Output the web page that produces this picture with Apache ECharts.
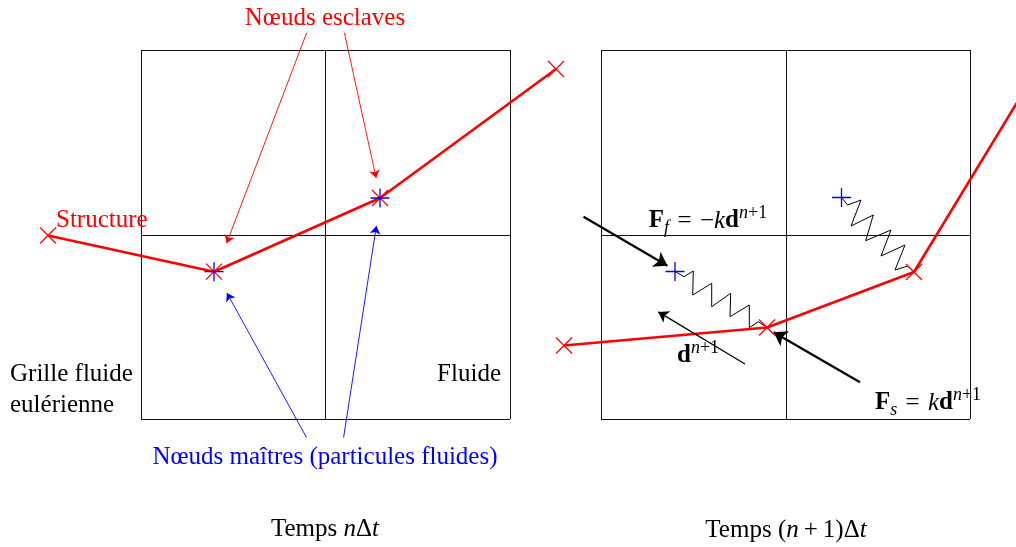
<!DOCTYPE html>
<html>
<head>
<meta charset="utf-8">
<script src="https://cdn.jsdelivr.net/npm/echarts@6/dist/echarts.min.js"></script>
<style>
  html, body { margin: 0; padding: 0; background: #fff; }
  #chart { width: 1016px; height: 547px; }
</style>
</head>
<body>
<div id="chart"></div>
<script>
// ---------- DATA (diagram units: 1 unit = 1 px of the reference) ----------
// Eulerian grid lines
const leftGridX  = [141, 325.5, 510];
const rightGridX = [601, 786, 970];
const gridY      = [50, 235, 419];

// Structure polylines (time n and n+1)
const leftStructure  = [[48, 235.5], [214, 271.7], [380, 198], [556, 69]];
const rightStructure = [[564, 345.5], [767, 327.5], [914, 272], [1018, 101]];

// Master nodes (fluid particles)
const leftMasters  = [[214, 271.7], [380, 198]];
const rightMasters = [[675, 271.5], [841.5, 197.5]];

// Springs (zig-zag) between master and slave nodes at time n+1
const spring1 = [[675, 271.5], [684, 276.7], [693.3, 271], [692.7, 295], [711.7, 283.3], [711.7, 306.7],
                 [730.7, 293.3], [730, 316.7], [749.3, 305], [749.3, 327.7], [758.3, 321.7], [767, 327.5]];
const spring2 = [[841.5, 197.5], [847.7, 205], [861, 200], [851, 226], [873.3, 215], [865.7, 240.7],
                 [891, 230], [881, 256], [905, 245], [895, 270], [907.7, 266], [914, 272]];

// Pointer arrows [from, tip]
const redPointers  = [[[306.7, 32.7], [225.2, 247]], [[344.4, 32.7], [377, 182]]];
const bluePointers = [[[306.5, 437.5], [225, 289.5]], [[343.6, 437.5], [377, 222]]];
const forceArrows  = [[[583.5, 216.7], [673, 269]], [[860, 382.3], [768, 329]]];
const dispArrow    = [[[745, 364], [654, 309.3]]];

// Texts
const SUP = '{sup|n}{supr|+1}';
const labels = [
  { text: 'Nœuds esclaves', at: [325, 18], color: '#ff0000', align: 'center' },
  { text: 'Structure', at: [56, 220], color: '#ff0000', align: 'left' },
  { text: 'Grille fluide', at: [10, 374], color: '#000000', align: 'left' },
  { text: 'eulérienne', at: [10, 405], color: '#000000', align: 'left' },
  { text: 'Fluide', at: [501, 374], color: '#000000', align: 'right' },
  { text: 'Nœuds maîtres (particules fluides)', at: [325, 457], color: '#0000ff', align: 'center' },
  { text: '{rm|Temps }{it|n}{rm|Δ}{it|t}', at: [325, 529], color: '#000000', align: 'center' },
  { text: '{rm|Temps (}{it|n}{rm|\u2009+\u20091)Δ}{it|t}', at: [786, 530], color: '#000000', align: 'center' },
  { text: '{bf|F}{sub|f}{rm|\u2004=\u2004−}{it|k}{bf|d}' + SUP, at: [708, 221], color: '#000000', align: 'center' },
  { text: '{bf|d}' + SUP, at: [698, 356], color: '#000000', align: 'center' },
  { text: '{bf|F}{sub|s}{rm|\u2004=\u2004}{it|k}{bf|d}' + SUP, at: [928, 403], color: '#000000', align: 'center' }
];

// ---------- BUILD ----------
const FONT = "'Liberation Serif', 'DejaVu Serif', serif";
const FS = 25;
const FSS = 18;

function gridSegments(xs, ys) {
  const segs = [];
  xs.forEach(x => segs.push({ coords: [[x, ys[0]], [x, ys[ys.length - 1]]] }));
  ys.forEach(y => segs.push({ coords: [[xs[0], y], [xs[xs.length - 1], y]] }));
  return segs;
}
// shorten so that the centred arrow symbol has its tip at 'tip'
function arrowSeg(pair, head) {
  const [a, b] = pair;
  const dx = b[0] - a[0], dy = b[1] - a[1];
  const L = Math.hypot(dx, dy);
  const k = (L - head / 2) / L;
  return { coords: [a, [a[0] + dx * k, a[1] + dy * k]] };
}

const crossPath = 'path://M0,0L10,10M10,0L0,10';
const plusPath  = 'path://M5,0L5,10M0,5L10,5';

const rich = {
  rm:  { fontFamily: FONT, fontSize: FS },
  it:  { fontFamily: FONT, fontSize: FS, fontStyle: 'italic' },
  bf:  { fontFamily: FONT, fontSize: FS, fontWeight: 'bold' },
  sub: { fontFamily: FONT, fontSize: FSS, fontStyle: 'italic', verticalAlign: 'bottom', lineHeight: 33 },
  sup: { fontFamily: FONT, fontSize: FSS, fontStyle: 'italic', verticalAlign: 'top', lineHeight: 33 },
  supr:{ fontFamily: FONT, fontSize: FSS, verticalAlign: 'top', lineHeight: 33 }
};

const series = [];

series.push({
  type: 'lines', coordinateSystem: 'cartesian2d', silent: true,
  lineStyle: { color: '#111', width: 1, opacity: 1 },
  symbol: 'none',
  data: gridSegments(leftGridX, gridY).concat(gridSegments(rightGridX, gridY)),
  z: 1
});

[spring1, spring2].forEach(sp => series.push({
  type: 'line', data: sp, symbol: 'none', silent: true,
  lineStyle: { color: '#000', width: 1 }, z: 2
}));

[leftStructure, rightStructure].forEach(st => series.push({
  type: 'line', data: st, symbol: 'none', silent: true,
  lineStyle: { color: '#ff0000', width: 2.6 }, z: 3
}));

series.push({
  type: 'lines', coordinateSystem: 'cartesian2d', silent: true,
  lineStyle: { color: '#ff0000', width: 0.9, opacity: 1 },
  symbol: ['none', 'arrow'], symbolSize: 8,
  data: redPointers.map(p => arrowSeg(p, 8)), z: 4
});
series.push({
  type: 'lines', coordinateSystem: 'cartesian2d', silent: true,
  lineStyle: { color: '#0000ff', width: 0.9, opacity: 1 },
  symbol: ['none', 'arrow'], symbolSize: 8,
  data: bluePointers.map(p => arrowSeg(p, 8)), z: 4
});
series.push({
  type: 'lines', coordinateSystem: 'cartesian2d', silent: true,
  lineStyle: { color: '#000', width: 2.2, opacity: 1 },
  symbol: ['none', 'arrow'], symbolSize: 13,
  data: forceArrows.map(p => arrowSeg(p, 13)), z: 5
});
series.push({
  type: 'lines', coordinateSystem: 'cartesian2d', silent: true,
  lineStyle: { color: '#000', width: 1.3, opacity: 1 },
  symbol: ['none', 'arrow'], symbolSize: 10,
  data: dispArrow.map(p => arrowSeg(p, 10)), z: 5
});

series.push({
  type: 'scatter', silent: true, symbol: crossPath, symbolSize: 16,
  itemStyle: { color: 'rgba(0,0,0,0)', borderColor: '#ff0000', borderWidth: 1.2, opacity: 1 },
  data: leftStructure.concat(rightStructure), z: 6
});
series.push({
  type: 'scatter', silent: true, symbol: plusPath, symbolSize: 19,
  itemStyle: { color: 'rgba(0,0,0,0)', borderColor: '#0000ff', borderWidth: 1.3, opacity: 1 },
  data: leftMasters.concat(rightMasters), z: 7
});

labels.forEach(l => series.push({
  type: 'scatter', silent: true, symbol: 'circle', symbolSize: 1,
  itemStyle: { color: 'rgba(0,0,0,0)', opacity: 1 },
  data: [l.at], z: 10,
  label: {
    show: true, position: 'inside', align: l.align, verticalAlign: 'middle',
    formatter: l.text, color: l.color, fontFamily: FONT, fontSize: FS, opacity: 1,
    rich: Object.fromEntries(Object.entries(rich).map(([k, v]) => [k, Object.assign({ color: l.color }, v)]))
  }
}));

const chart = echarts.init(document.getElementById('chart'), null, { renderer: 'canvas' });
chart.setOption({
  animation: false,
  backgroundColor: '#ffffff',
  grid: { left: 0, right: 0, top: 0, bottom: 0 },
  xAxis: { type: 'value', min: 0, max: 1016, show: false },
  yAxis: { type: 'value', min: 0, max: 547, inverse: true, show: false },
  series: series
});
</script>
</body>
</html>
